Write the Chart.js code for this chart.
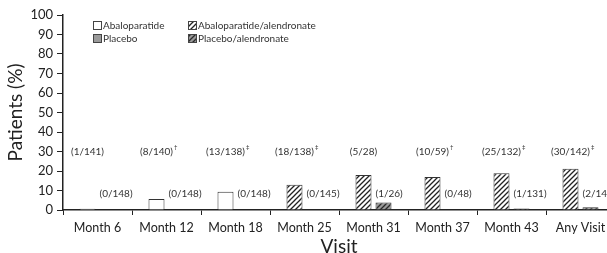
<!DOCTYPE html>
<html>
<head>
<meta charset="utf-8">
<script src="https://cdn.jsdelivr.net/npm/chart.js@4"></script>
<style>
  html, body { margin: 0; padding: 0; background: #fff; overflow: hidden; }
  #wrap { width: 607px; height: 253px; overflow: hidden; }
</style>
</head>
<body>
<div id="wrap"><canvas id="chart" width="622" height="258"></canvas></div>
<script>
// data
const visits = ['Month 6', 'Month 12', 'Month 18', 'Month 25', 'Month 31', 'Month 37', 'Month 43', 'Any Visit'];
const abaloparatide = [0.7, 5.7, 9.4, null, null, null, null, null];
const placebo = [0, 0, 0, null, null, null, null, null];
const abaloAlendronate = [null, null, null, 13.0, 17.9, 16.9, 18.9, 21.1];
const placeboAlendronate = [null, null, null, 0, 3.8, 0, 0.8, 1.4];
const activeCounts = ['(1/141)', '(8/140)', '(13/138)', '(18/138)', '(5/28)', '(10/59)', '(25/132)', '(30/142)'];
const activeMarks = ['', '†', '‡', '‡', '', '†', '‡', '‡'];
const placeboCounts = ['(0/148)', '(0/148)', '(0/148)', '(0/145)', '(1/26)', '(0/48)', '(1/131)', '(2/148)'];
const yTicks = [0, 10, 20, 30, 40, 50, 60, 70, 80, 90, 100];

const FONT = 'Lato, "Open Sans", sans-serif';

// diagonal hatch fill
function makeHatch(bg, fg) {
    const c = document.createElement('canvas');
    c.width = 5;
    c.height = 5;
    const g = c.getContext('2d');
    g.fillStyle = bg;
    g.fillRect(0, 0, 5, 5);
    g.strokeStyle = fg;
    g.lineWidth = 1.3;
    g.beginPath();
    g.moveTo(-1, 6); g.lineTo(6, -1);
    g.moveTo(-1, 1); g.lineTo(1, -1);
    g.moveTo(4, 6); g.lineTo(6, 4);
    g.stroke();
    return g.createPattern(c, 'repeat');
}

const lightHatch = makeHatch('#ffffff', '#222222');
const darkHatch = makeHatch('#9a9a9a', '#2a2a2a');

const legendItems = [
    { text: 'Abaloparatide', fill: '#ffffff', col: 0, row: 0 },
    { text: 'Placebo', fill: '#9a9a9a', col: 0, row: 1 },
    { text: 'Abaloparatide/alendronate', fill: lightHatch, col: 1, row: 0 },
    { text: 'Placebo/alendronate', fill: darkHatch, col: 1, row: 1 }
];

const legendPlugin = {
    id: 'cornerLegend',
    afterDraw(chart) {
        const { ctx, chartArea } = chart;
        ctx.save();
        ctx.font = '10px ' + FONT;
        ctx.textBaseline = 'middle';
        legendItems.forEach(item => {
            const x = chartArea.left + 30 + item.col * 95;
            const y = chartArea.top + 10 + item.row * 13;
            ctx.fillStyle = item.fill;
            ctx.fillRect(x, y - 4, 8, 8);
            ctx.strokeStyle = '#444';
            ctx.lineWidth = 1;
            ctx.strokeRect(x + 0.5, y - 3.5, 8, 8);
            ctx.fillStyle = '#333';
            ctx.fillText(item.text, x + 10, y + 0.5);
        });
        ctx.restore();
    }
};

const countPlugin = {
    id: 'countLabels',
    afterDatasetsDraw(chart) {
        const { ctx } = chart;
        const y = chart.scales.y;
        const x = chart.scales.x;
        ctx.save();
        ctx.fillStyle = '#333';
        ctx.textBaseline = 'middle';
        visits.forEach((v, i) => {
            const cx = x.getPixelForValue(i);
            // active arm label centered over first bar
            ctx.font = '10px ' + FONT;
            const txt = activeCounts[i];
            const w = ctx.measureText(txt).width;
            const left = cx - 10 - w / 2;
            const ty = y.getPixelForValue(30);
            ctx.fillText(txt, left, ty);
            if (activeMarks[i]) {
                ctx.font = '6px ' + FONT;
                ctx.fillText(activeMarks[i], left + w + 1, ty - 4);
            }
            // placebo arm label from second bar's left edge
            ctx.font = '10px ' + FONT;
            ctx.fillText(placeboCounts[i], cx + 2, y.getPixelForValue(8.5));
        });
        ctx.restore();
    }
};

function barSet(label, data, fill, stack) {
    return {
        label: label,
        data: data,
        backgroundColor: fill,
        borderColor: '#333',
        // zero-height bars are not drawn in the original
        borderWidth: c => (c.raw ? 1 : 0),
        borderSkipped: 'bottom',
        stack: stack,
        categoryPercentage: 0.58,
        barPercentage: 0.8
    };
}

new Chart(document.getElementById('chart'), {
    type: 'bar',
    data: {
        labels: visits,
        datasets: [
            barSet('Abaloparatide', abaloparatide, '#ffffff', 'active'),
            barSet('Placebo', placebo, '#9a9a9a', 'control'),
            barSet('Abaloparatide/alendronate', abaloAlendronate, lightHatch, 'active'),
            barSet('Placebo/alendronate', placeboAlendronate, darkHatch, 'control')
        ]
    },
    options: {
        responsive: false,
        animation: false,
        layout: { padding: { top: 15, right: 7, left: 0, bottom: 0 } },
        plugins: {
            legend: { display: false },
            tooltip: { enabled: false }
        },
        scales: {
            x: {
                stacked: true,
                grid: { offset: true, drawOnChartArea: false, tickLength: 5, color: '#222' },
                border: { color: '#222', width: 1.5 },
                ticks: { color: '#222', font: { family: FONT, size: 12.5 }, padding: 5 },
                title: { display: true, text: 'Visit', color: '#222', font: { family: FONT, size: 19 }, padding: { top: 0, bottom: 0 } },
                afterFit: s => { s.height = 48; }
            },
            y: {
                stacked: true,
                min: 0,
                max: 100,
                afterBuildTicks: s => { s.ticks = yTicks.map(v => ({ value: v })); },
                grid: { drawOnChartArea: false, tickLength: 6, color: '#222' },
                border: { color: '#222', width: 1.5 },
                ticks: { color: '#222', font: { family: FONT, size: 13 }, padding: 4 },
                title: { display: true, text: 'Patients (%)', color: '#222', font: { family: FONT, size: 19 } },
                afterFit: s => { s.width = 63; }
            }
        }
    },
    plugins: [legendPlugin, countPlugin]
});
</script>
</body>
</html>
